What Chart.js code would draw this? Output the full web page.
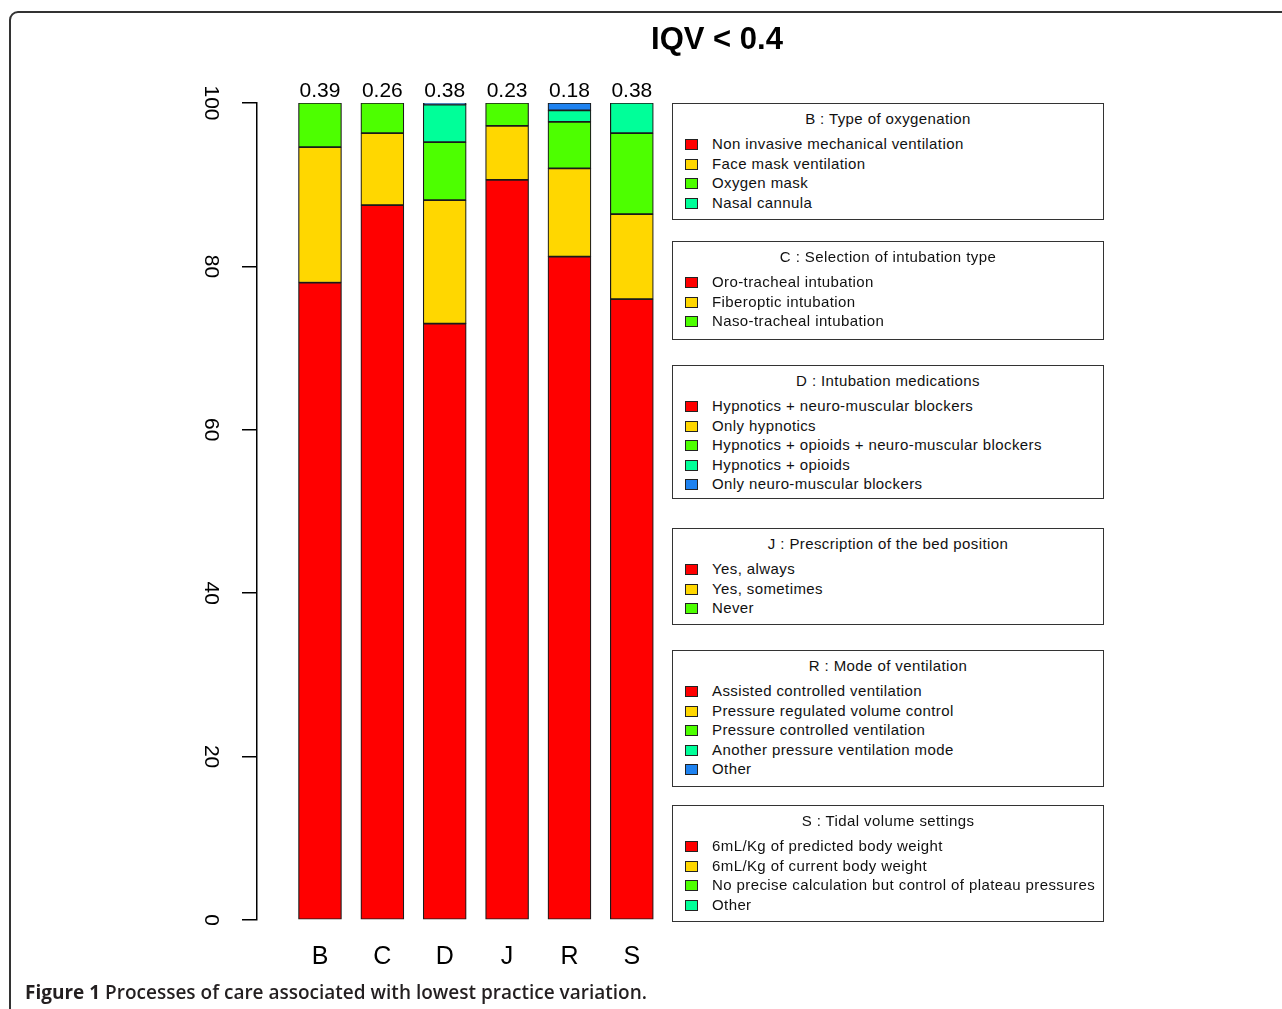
<!DOCTYPE html>
<html>
<head>
<meta charset="utf-8">
<script src="https://cdn.jsdelivr.net/npm/chart.js@4.4.1/dist/chart.umd.min.js"></script>
<style>
  body { margin: 0; background: #fff; width: 1282px; height: 1009px; overflow: hidden; position: relative; }
  #frame { position: absolute; left: 9px; top: 11px; width: 1300px; height: 1030px; border: 2px solid #333; border-radius: 9px; }
  #wrap { position: absolute; left: 150px; top: 0; width: 1132px; height: 1000px; }
  #title { position: absolute; left: 517px; width: 400px; top: 20px; text-align: center; line-height: 38px;
           font-family: "Liberation Sans", Arial, sans-serif; font-size: 31px; font-weight: bold; color: #000; }
  .legbox { position: absolute; left: 672px; width: 430px; border: 1.5px solid #333; background: #fff;
            font-family: "Liberation Sans", Arial, sans-serif; font-size: 15px; letter-spacing: 0.4px; color: #111; }
  .legbox .ttl { position: absolute; left: 0; right: 0; text-align: center; line-height: 18px; }
  .legbox .item { position: absolute; left: 39px; line-height: 18px; white-space: nowrap; }
  .legbox .sw { position: absolute; left: -27px; top: 4px; width: 11px; height: 9px; border: 1px solid #222; }
  #caption { position: absolute; left: 25px; top: 979px; font-family: "Open Sans", "Liberation Sans", sans-serif;
             font-size: 19px; color: #231f20; font-weight: 600; white-space: nowrap; }
  #caption b { font-weight: 700; }
</style>
</head>
<body>
<div id="frame"></div>
<div id="wrap"><canvas id="chart" width="1132" height="1000"></canvas></div>
<div id="title">IQV &lt; 0.4</div>
<div id="legends"></div>
<div id="caption"><b>Figure 1</b> Processes of care associated with lowest practice variation.</div>

<script>
// categories and values (percent of answers)
const categories = ['B', 'C', 'D', 'J', 'R', 'S'];
const iqv = [0.39, 0.26, 0.38, 0.23, 0.18, 0.38];
const answer1 = [78.0, 87.5, 73.0, 90.6, 81.2, 76.0];
const answer2 = [16.6, 8.8, 15.1, 6.6, 10.8, 10.4];
const answer3 = [5.4, 3.7, 7.1, 2.8, 5.7, 9.9];
const answer4 = [0, 0, 4.6, 0, 1.4, 3.7];
const answer5 = [0, 0, 0.2, 0, 0.9, 0];
const yTicks = [0, 20, 40, 60, 80, 100];

const colors = ['#FF0000', '#FFD700', '#4DFF00', '#00FF99', '#1E82F0'];

// legend texts, one box per question
const legendTitles = [
    'B : Type of oxygenation',
    'C : Selection of intubation type',
    'D : Intubation medications',
    'J : Prescription of the bed position',
    'R : Mode of ventilation',
    'S : Tidal volume settings'
];
const legendItems = [
    ['Non invasive mechanical ventilation', 'Face mask ventilation', 'Oxygen mask', 'Nasal cannula'],
    ['Oro-tracheal intubation', 'Fiberoptic intubation', 'Naso-tracheal intubation'],
    ['Hypnotics + neuro-muscular blockers', 'Only hypnotics', 'Hypnotics + opioids + neuro-muscular blockers', 'Hypnotics + opioids', 'Only neuro-muscular blockers'],
    ['Yes, always', 'Yes, sometimes', 'Never'],
    ['Assisted controlled ventilation', 'Pressure regulated volume control', 'Pressure controlled ventilation', 'Another pressure ventilation mode', 'Other'],
    ['6mL/Kg of predicted body weight', '6mL/Kg of current body weight', 'No precise calculation but control of plateau pressures', 'Other']
];
const legendTops = [103, 241, 365, 528, 650, 805];
const legendHeights = [115, 97, 132, 95, 135, 115];

// build legend boxes
const legends = document.getElementById('legends');
legendTitles.forEach((title, b) => {
    const box = document.createElement('div');
    box.className = 'legbox';
    box.style.top = legendTops[b] + 'px';
    box.style.height = legendHeights[b] + 'px';
    let html = `<div class="ttl" style="top:6px">${title}</div>`;
    legendItems[b].forEach((txt, k) => {
        html += `<div class="item" style="top:${31 + k * 19.5}px"><span class="sw" style="background:${colors[k]}"></span>${txt}</div>`;
    });
    box.innerHTML = html;
    legends.appendChild(box);
});

const series = [answer1, answer2, answer3, answer4, answer5];
const font = '"Liberation Sans", Arial, sans-serif';

// IQV values over the bars
const iqvLabels = {
    id: 'iqvLabels',
    afterDatasetsDraw(chart) {
        const { ctx, scales: { x, y } } = chart;
        ctx.save();
        ctx.font = '21px ' + font;
        ctx.fillStyle = '#000';
        ctx.textAlign = 'center';
        ctx.textBaseline = 'alphabetic';
        iqv.forEach((v, i) => {
            ctx.fillText(v.toFixed(2), x.getPixelForValue(i), y.getPixelForValue(100) - 6);
        });
        ctx.restore();
    }
};

new Chart(document.getElementById('chart'), {
    type: 'bar',
    data: {
        datasets: series.map((vals, s) => ({
            label: 'answer ' + (s + 1),
            data: categories.map((c, i) => ({ x: i, y: vals[i] === 0 ? null : vals[i] })),
            backgroundColor: colors[s],
            borderColor: '#1a1a1a',
            borderWidth: 1.2,
            borderSkipped: false,
            barThickness: 43
        }))
    },
    options: {
        responsive: false,
        animation: false,
        layout: { padding: { left: 7, right: 619, top: 103, bottom: 20 } },
        plugins: {
            legend: { display: false },
            tooltip: { enabled: false },
            title: { display: false }
        },
        scales: {
            x: {
                type: 'linear',
                stacked: true,
                offset: false,
                min: -1.01,
                max: 5.5,
                grid: { display: false, drawTicks: false, offset: false },
                border: { display: false },
                afterBuildTicks: scale => { scale.ticks = categories.map((c, i) => ({ value: i })); },
                afterFit: scale => { scale.height = 60; },
                ticks: {
                    padding: 22,
                    color: '#000',
                    font: { family: font, size: 25 },
                    callback: v => categories[v]
                }
            },
            y: {
                stacked: true,
                min: 0,
                max: 100,
                afterBuildTicks: scale => { scale.ticks = yTicks.map(v => ({ value: v })); },
                afterFit: scale => { scale.width = 100; },
                grid: { display: true, drawOnChartArea: false, drawTicks: true, tickLength: 15, color: '#000', lineWidth: 1.5 },
                border: { display: true, color: '#000', width: 1.5 },
                ticks: {
                    autoSkip: false,
                    minRotation: -90,
                    maxRotation: -90,
                    crossAlign: 'center',
                    padding: 14,
                    color: '#000',
                    font: { family: font, size: 21 }
                }
            }
        }
    },
    plugins: [iqvLabels]
});
</script>
</body>
</html>
